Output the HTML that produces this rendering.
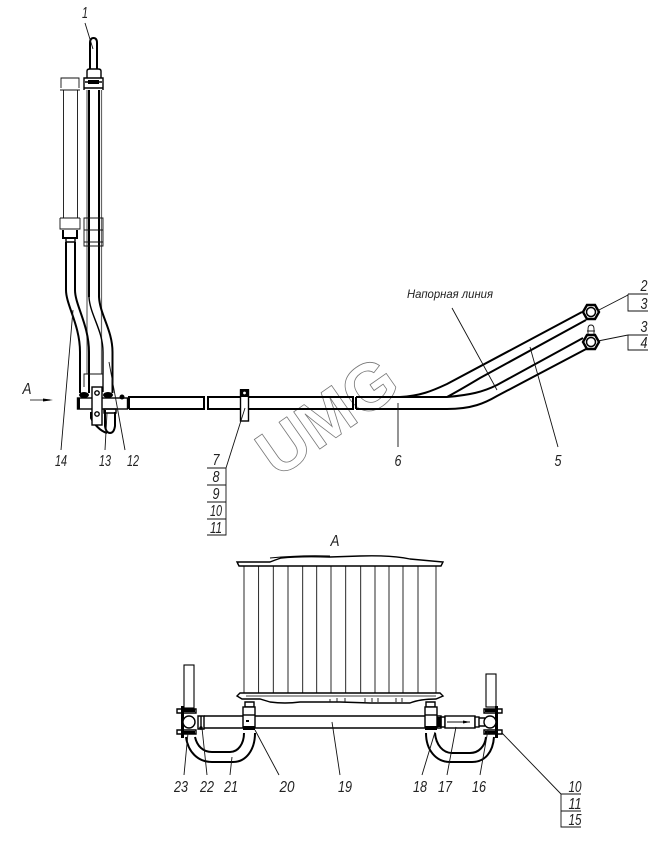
<!DOCTYPE html>
<html><head><meta charset="utf-8"><style>
html,body{margin:0;padding:0;background:#fff}
svg{display:block}
text{font-family:"Liberation Sans",sans-serif;font-style:italic;fill:#222;font-size:16px;text-anchor:middle}
.m{fill:none;stroke:#000;stroke-width:1.4}
.b{fill:none;stroke:#000;stroke-width:2}
.t{fill:none;stroke:#111;stroke-width:.9}
.g{fill:none;stroke:#666;stroke-width:1.2}
.w{fill:#fff;stroke:#000;stroke-width:1.4}
</style></head><body>
<svg width="664" height="842" viewBox="0 0 664 842" xmlns="http://www.w3.org/2000/svg">
<rect width="664" height="842" fill="#fff"/>
<!-- watermark -->
<text transform="translate(327,416) rotate(-35)" y="23" style="font-size:66px;font-style:normal;font-weight:bold;fill:none;stroke:#777;stroke-width:.8">UMG</text>

<!-- left cylinder -->
<path class="t" d="M63.5,90V218M77.5,90V218"/>
<path class="t" d="M61,88V78H79V88M60,90H80M60,218H80M60,218V229H80V218"/>
<path class="b" d="M63,230V238H77V230"/>
<path class="m" d="M66,238V242H75V238"/>
<!-- top pipe -->
<path class="b" d="M90,69V43Q90,38 93.5,38Q97,38 97,43V69"/>
<path class="m" d="M87,78V71Q87,69 90,69H98Q101,69 101,71V78"/>
<path class="m" d="M84,90V78H103V90M85,82H102M84,88H103"/>
<rect x="88" y="80" width="11" height="4" fill="#000"/>
<!-- vertical tubes -->
<path class="g" d="M87,90V374M101.5,90V374"/>
<path class="b" d="M89,90V297M99,90V297"/>
<path class="t" d="M84,218H103V230H84ZM84,230V242H103V230M84,240V246H103V240"/>
<!-- S pipes -->
<path class="b" d="M66,242V290C66,305 80,325 80,352V393"/>
<path class="b" d="M75,242V290C75,305 89,325 89,352V393"/>
<path class="m" d="M89,297C90,315 103,330 103,352V392"/>
<path class="b" d="M99,297C100,315 112.5,330 112.5,352V393"/>
<path class="t" d="M84,387V374H103V387"/>
<!-- head block -->
<ellipse cx="84" cy="395" rx="5" ry="3" fill="#000"/>
<ellipse cx="108" cy="395" rx="5" ry="3" fill="#000"/>
<rect x="77.5" y="398" width="50" height="11" class="w" stroke-width="2"/>
<rect x="77" y="398" width="3" height="11" fill="#000"/>
<circle cx="122" cy="397" r="2.5" fill="#000"/>
<path class="b" d="M91,412V418C94,424 100,431 107,433"/>
<path class="b" d="M105,410V426Q106,433 110,433Q114,433 115,426V412"/>
<path class="m" d="M104,409H116V413H104Z"/>
<rect x="92" y="387" width="10" height="38" class="w" stroke-width="2"/>
<circle cx="97" cy="393" r="2.2" class="w"/>
<circle cx="97" cy="414" r="2.2" class="w"/>
<!-- horizontal pipe -->
<path class="b" d="M129,409V397H204V409H129"/>
<path class="b" d="M208,397H353V409H208Z"/>
<rect x="129" y="398" width="1" height="11" fill="#000"/>
<path class="b" d="M356,397V409"/>
<path class="b" d="M356,397H447M356,409H447"/>
<!-- clamp -->
<rect x="240.5" y="390" width="8" height="31" class="w" stroke-width="1.6"/>
<rect x="240" y="389" width="9" height="8" fill="#000"/>
<circle cx="244.5" cy="393" r="1.4" fill="#fff"/>
<!-- Curved tubes -->
<path class="b" d="M400,397C420,396 432,391 447,384L582,312"/>
<path class="b" d="M447,397C460,390 470,384 480,378L586,320"/>
<path class="b" d="M447,397C470,395 483,392 497,385L583,338"/>
<path class="b" d="M447,409C472,409 485,403 497,396L588,348"/>
<!-- nuts -->
<polygon points="583,312 587,305 595,305 599,312 595,319 587,319" fill="#fff" stroke="#000" stroke-width="2.4"/><circle cx="591" cy="312" r="4.5" fill="#fff" stroke="#000" stroke-width="1.5"/>
<polygon points="583,342 587,335 595,335 599,342 595,349 587,349" fill="#fff" stroke="#000" stroke-width="2.4"/><circle cx="591" cy="342" r="4.5" fill="#fff" stroke="#000" stroke-width="1.5"/>
<path class="t" d="M588,334V329Q588,325 591,325Q594,325 594,329V334M587,331H595"/>

<!-- Radiator -->
<path class="t" d="M244,566V693M258.6,566V693M273.3,566V693M288,566V693M302.7,566V693M316.7,566V693M331,566V693M345.7,566V693M360.7,566V693M375,566V693M389,566V693M403,566V693M418,566V693M436,566V693"/>
<path class="m" d="M237,562H270Q275,560 281,558Q300,556 330,557L360,556Q390,555 410,559L443,562L441,566H239Z"/>
<path fill="none" stroke="#000" stroke-width="1" d="M238,562L238,565M270,558Q300,555 330,556"/>
<path class="m" d="M237,696L240,693H440L443,696L436,699Q420,699 410,703H370L340,702H300Q285,704 270,702L260,699H242Z"/>
<path class="g" d="M246,696H436"/>
<path class="t" d="M330,699V702M337,698V702M345,698V702M365,698V702M372,698V702M378,698V702M396,698V702M402,698V702"/>
<!-- main pipe 19 -->
<path class="m" d="M204,716H426M204,728H426"/>
<!-- left group -->
<rect x="184" y="665" width="10" height="43" fill="#fff" stroke="#000" stroke-width="1.1"/>
<rect x="181" y="706" width="3" height="32" fill="#000"/>
<path class="m" d="M177,709V713H196V709ZM177,730V734H196V730Z"/>
<rect x="184" y="709" width="11" height="3" fill="#000"/>
<rect x="184" y="731" width="11" height="3" fill="#000"/>
<circle cx="189" cy="722" r="6" class="w" stroke-width="1.8"/>
<path class="m" d="M198,716V729H204V716ZM201,716V729"/>
<circle cx="201" cy="728" r="1.8" fill="#000"/>
<!-- left U -->
<path class="b" d="M186,737C188,752 198,762 212,762H233C246,762 255,750 255,733"/>
<path class="b" d="M195,737C197,746 203,752 212,752H230C238,752 244,744 244,733"/>
<path class="m" d="M245,702H254V707H245Z"/>
<rect x="243" y="707" width="12" height="20" class="w"/>
<path class="m" d="M243,715H255"/>
<rect x="243" y="726" width="12" height="4" fill="#000"/>
<rect x="246" y="720" width="3" height="2" fill="#000"/>
<!-- right group -->
<path class="b" d="M426,733C426,750 436,762 450,762H472C485,762 493,752 494,737"/>
<path class="b" d="M435,733C436,745 443,753 452,753H470C479,753 485,746 486,737"/>
<path class="m" d="M426,702H435V707H426Z"/>
<rect x="425" y="707" width="12" height="20" class="w"/>
<path class="m" d="M425,715H437"/>
<rect x="425" y="726" width="12" height="4" fill="#000"/>
<path class="m" d="M437,716H441V728H437"/>
<rect x="437" y="717" width="4" height="10" fill="#000"/>
<path class="m" d="M441,717H445V727H441Z"/>
<rect x="445" y="716" width="30" height="12" class="w"/>
<path class="t" d="M447,722H470"/>
<path d="M463,720.5L470,722L463,723.5Z" fill="#000"/>
<rect x="475" y="717" width="4" height="10" class="w"/>
<path class="m" d="M479,718H485M479,726H485"/>
<rect x="486" y="674" width="10" height="33" fill="#fff" stroke="#000" stroke-width="1.1"/>
<rect x="495" y="706" width="3" height="32" fill="#000"/>
<path class="m" d="M484,709V713H502V709ZM484,730V734H502V730Z"/>
<rect x="485" y="709" width="10" height="3" fill="#000"/>
<rect x="485" y="731" width="10" height="3" fill="#000"/>
<circle cx="490" cy="722" r="6" class="w" stroke-width="1.6"/>

<!-- leaders -->
<path class="t" d="M85,23L93,49M73,310L61,450M107,413L105,450M109,362L125,450M245,408L226,468M207,468H226V535H207M207,485H226M207,502H226M207,519H226"/>
<path class="g" d="M30,400H50"/>
<path d="M43,398.5L53,400L43,401.5Z" fill="#000"/>
<path class="t" d="M628,295L597,311M628,294H648M628,294V311H648M628,335L598,341M628,335H648M628,335V350H648M452,308L497,390M530,347L558,447M398,403V447"/>
<path class="t" d="M332,722L340,775M435,732L422,775M456,727L447,775M488,730L480,775M502,733L561,794M561,794H581M561,794V827H581M561,811H581"/>
<path class="t" d="M188,733L184,775M202,728L207,775M232,757L230,775M255,730L279,775"/>

<!-- labels -->
<text x="85" y="18" textLength="6" lengthAdjust="spacingAndGlyphs">1</text>
<text x="27" y="394" textLength="9" lengthAdjust="spacingAndGlyphs">A</text>
<text x="61" y="466" textLength="12" lengthAdjust="spacingAndGlyphs">14</text>
<text x="105" y="466" textLength="12" lengthAdjust="spacingAndGlyphs">13</text>
<text x="133" y="466" textLength="12" lengthAdjust="spacingAndGlyphs">12</text>
<text x="216" y="465" textLength="7" lengthAdjust="spacingAndGlyphs">7</text>
<text x="216" y="482" textLength="7" lengthAdjust="spacingAndGlyphs">8</text>
<text x="216" y="499" textLength="7" lengthAdjust="spacingAndGlyphs">9</text>
<text x="216" y="516" textLength="12" lengthAdjust="spacingAndGlyphs">10</text>
<text x="216" y="533" textLength="12" lengthAdjust="spacingAndGlyphs">11</text>
<text x="398" y="466" textLength="7" lengthAdjust="spacingAndGlyphs">6</text>
<text x="558" y="466" textLength="7" lengthAdjust="spacingAndGlyphs">5</text>
<text x="450" y="298" textLength="86" lengthAdjust="spacingAndGlyphs" style="font-size:12px">Напорная линия</text>
<text x="644" y="291" textLength="7" lengthAdjust="spacingAndGlyphs">2</text>
<text x="644" y="309" textLength="7" lengthAdjust="spacingAndGlyphs">3</text>
<text x="644" y="332" textLength="7" lengthAdjust="spacingAndGlyphs">3</text>
<text x="644" y="348" textLength="7" lengthAdjust="spacingAndGlyphs">4</text>
<text x="335" y="546" textLength="9" lengthAdjust="spacingAndGlyphs">A</text>
<text x="181" y="792" textLength="14" lengthAdjust="spacingAndGlyphs">23</text>
<text x="207" y="792" textLength="14" lengthAdjust="spacingAndGlyphs">22</text>
<text x="231" y="792" textLength="14" lengthAdjust="spacingAndGlyphs">21</text>
<text x="287" y="792" textLength="15" lengthAdjust="spacingAndGlyphs">20</text>
<text x="345" y="792" textLength="14" lengthAdjust="spacingAndGlyphs">19</text>
<text x="420" y="792" textLength="14" lengthAdjust="spacingAndGlyphs">18</text>
<text x="445" y="792" textLength="14" lengthAdjust="spacingAndGlyphs">17</text>
<text x="479" y="792" textLength="14" lengthAdjust="spacingAndGlyphs">16</text>
<text x="575" y="792" textLength="13" lengthAdjust="spacingAndGlyphs">10</text>
<text x="575" y="809" textLength="13" lengthAdjust="spacingAndGlyphs">11</text>
<text x="575" y="825" textLength="13" lengthAdjust="spacingAndGlyphs">15</text>
</svg>
</body></html>
